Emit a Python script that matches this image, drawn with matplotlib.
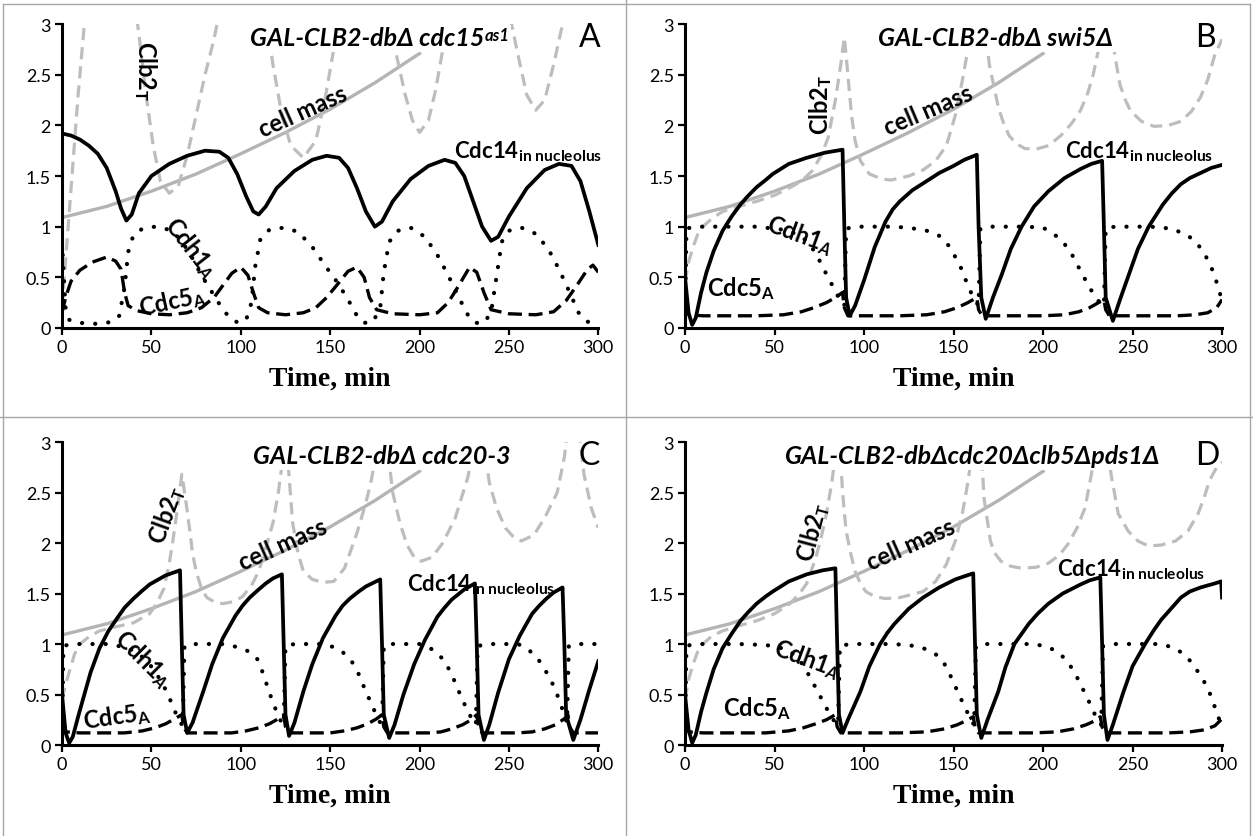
import numpy as np
import matplotlib
matplotlib.use('Agg')
import matplotlib.pyplot as plt
from matplotlib.lines import Line2D

plt.rcParams['font.family'] = ['Lato', 'DejaVu Sans']
plt.rcParams['mathtext.fontset'] = 'custom'
plt.rcParams['mathtext.rm'] = 'Lato:bold'
plt.rcParams['mathtext.it'] = 'Lato:italic:bold'
plt.rcParams['mathtext.bf'] = 'Lato:bold'

# ---- data: (time, value) ----
cell_mass = [(0, 1.09), (25, 1.2), (50, 1.35), (75, 1.52), (100, 1.72),
             (125, 1.93), (150, 2.16), (175, 2.42), (200, 2.71)]

# panel A: GAL-CLB2-dbΔ cdc15as1
a_clb2 = [(0, 0.2), (3, 0.9), (6, 1.6), (9, 2.3), (12, 2.9), (14, 3.3), (27, 3.6),
          (40, 3.3), (43, 2.9), (47, 2.3), (51, 1.8), (55, 1.45), (60, 1.33), (65, 1.4),
          (70, 1.7), (75, 2.1), (80, 2.5), (85, 2.85), (89, 3.2), (100, 3.6),
          (112, 3.3), (118, 2.6), (123, 2.1), (128, 1.8), (135, 1.68), (142, 1.85),
          (147, 2.25), (152, 2.75), (155, 3.1), (168, 3.6),
          (180, 3.3), (187, 2.7), (192, 2.3), (196, 2.05), (200, 1.93), (205, 2.05),
          (209, 2.35), (213, 2.75), (217, 3.2), (232, 3.6),
          (248, 3.3), (255, 2.7), (260, 2.3), (265, 2.15), (270, 2.25), (275, 2.6),
          (280, 3.0), (283, 3.3), (292, 3.6), (300, 3.8)]
a_cdc14 = [(0, 1.92), (5, 1.9), (10, 1.86), (15, 1.8), (20, 1.72), (25, 1.58), (30, 1.35),
           (33, 1.18), (36, 1.06), (39, 1.12), (43, 1.33), (50, 1.5), (60, 1.62), (70, 1.7),
           (80, 1.75), (88, 1.74), (93, 1.68), (98, 1.52), (103, 1.3), (107, 1.15),
           (110, 1.12), (114, 1.2), (120, 1.38), (130, 1.55), (140, 1.66), (148, 1.70),
           (155, 1.68), (160, 1.58), (165, 1.38), (170, 1.15), (175, 1.0), (179, 1.05),
           (185, 1.25), (195, 1.47), (205, 1.6), (214, 1.66), (220, 1.63), (225, 1.5),
           (230, 1.25), (235, 1.0), (240, 0.86), (244, 0.9), (250, 1.1), (260, 1.38),
           (270, 1.56), (278, 1.62), (285, 1.6), (290, 1.45), (295, 1.15), (300, 0.82)]
a_cdh1 = [(0, 0.85), (1, 0.5), (2, 0.2), (4, 0.08), (10, 0.05), (20, 0.04), (28, 0.06),
          (32, 0.12), (35, 0.4), (37, 0.75), (40, 0.92), (45, 0.98), (52, 1.0), (60, 0.97),
          (66, 0.88), (72, 0.72), (78, 0.52), (84, 0.35), (90, 0.18), (95, 0.08), (99, 0.05),
          (103, 0.08), (106, 0.25), (108, 0.6), (111, 0.88), (116, 0.97), (124, 0.99),
          (132, 0.95), (140, 0.8), (147, 0.62), (154, 0.45), (160, 0.28), (165, 0.12),
          (169, 0.05), (174, 0.06), (178, 0.2), (180, 0.55), (183, 0.85), (188, 0.96),
          (195, 0.99), (203, 0.9), (210, 0.72), (216, 0.52), (222, 0.3), (227, 0.13),
          (231, 0.05), (236, 0.05), (240, 0.15), (243, 0.5), (246, 0.85), (250, 0.96),
          (257, 0.99), (265, 0.93), (272, 0.78), (278, 0.58), (284, 0.35), (289, 0.15),
          (294, 0.06), (300, 0.09)]
a_cdc5 = [(0, 0.15), (2, 0.3), (5, 0.46), (10, 0.57), (17, 0.65), (25, 0.7), (30, 0.66),
          (33, 0.58), (35, 0.35), (37, 0.22), (42, 0.17), (50, 0.14), (60, 0.13), (70, 0.15),
          (78, 0.2), (85, 0.3), (90, 0.42), (95, 0.54), (100, 0.6), (104, 0.52), (107, 0.35),
          (110, 0.2), (115, 0.15), (125, 0.13), (135, 0.15), (142, 0.2), (148, 0.3),
          (155, 0.45), (160, 0.56), (165, 0.6), (169, 0.5), (172, 0.3), (176, 0.18),
          (185, 0.14), (200, 0.13), (210, 0.15), (216, 0.25), (222, 0.42), (228, 0.6),
          (232, 0.55), (236, 0.35), (240, 0.18), (250, 0.14), (265, 0.13), (275, 0.16),
          (282, 0.27), (288, 0.42), (294, 0.58), (297, 0.62), (300, 0.55)]

# panel B: GAL-CLB2-dbΔ swi5Δ
b_clb2 = [(0, 0.45), (2, 0.65), (4.5, 0.8), (7, 0.92), (10, 1.0), (15, 1.08), (21, 1.15),
          (30, 1.2), (40, 1.25), (50, 1.31), (58, 1.38), (65, 1.45), (71, 1.55), (76, 1.7),
          (80, 1.88), (84, 2.25), (87, 2.6), (89, 2.87), (91, 2.5), (93, 2.1), (95, 1.85),
          (98, 1.65), (103, 1.52), (110, 1.47), (115, 1.46), (125, 1.5), (133, 1.56),
          (140, 1.65), (146, 1.8), (151, 2.1), (155, 2.45), (159, 2.85), (162, 3.2),
          (165, 3.3), (168, 2.9), (170, 2.6), (173, 2.35), (175, 2.18), (178, 2.02),
          (181, 1.9), (185, 1.82), (190, 1.77), (197, 1.77), (203, 1.8), (210, 1.9),
          (216, 2.02), (221, 2.15), (225, 2.32), (228, 2.5), (231, 2.75), (234, 3.2),
          (238, 3.1), (240, 2.7), (243, 2.4), (246, 2.25), (249, 2.14), (255, 2.04),
          (262, 1.99), (270, 2.0), (277, 2.04), (283, 2.14), (288, 2.28), (292, 2.45),
          (296, 2.7), (300, 2.85)]
b_cdc14 = [(0, 0.5), (2, 0.15), (4, 0.03), (6, 0.1), (9, 0.35), (12, 0.55), (16, 0.76),
           (21, 0.96), (26, 1.1), (31, 1.22), (35, 1.3), (40, 1.39), (45, 1.46), (49, 1.52),
           (58, 1.62), (68, 1.68), (78, 1.73), (88, 1.76), (89, 1.0), (90, 0.3), (92, 0.12),
           (95, 0.22), (100, 0.47), (106, 0.8), (112, 1.05), (116, 1.17), (120, 1.25),
           (127, 1.36), (135, 1.45), (142, 1.53), (150, 1.6), (156, 1.66), (163, 1.71),
           (164, 1.0), (165.5, 0.3), (168, 0.09), (172, 0.3), (177, 0.53), (182, 0.78),
           (188, 1.0), (195, 1.2), (203, 1.35), (212, 1.48), (221, 1.57), (227, 1.62),
           (233, 1.65), (234, 1.0), (235, 0.3), (239, 0.07), (243, 0.28), (248, 0.53),
           (253, 0.78), (259, 1.0), (267, 1.22), (272, 1.33), (277, 1.42), (282, 1.48),
           (288, 1.53), (294, 1.58), (300, 1.61)]
b_cdh1 = [(0, 0.1), (0.8, 0.98), (5, 1.0), (20, 1.0), (40, 1.0), (55, 0.97), (62, 0.93),
          (68, 0.86), (73, 0.74), (77, 0.6), (81, 0.46), (84, 0.37), (87, 0.25), (89, 0.22),
          (90, 0.98), (95, 1.0), (115, 1.0), (125, 0.99), (135, 0.96), (142, 0.91),
          (148, 0.8), (154, 0.6), (158, 0.42), (161, 0.3), (164, 0.22), (165, 0.98),
          (170, 1.0), (190, 1.0), (200, 0.99), (206, 0.93), (212, 0.83), (217, 0.7),
          (221, 0.56), (226, 0.4), (230, 0.28), (234, 0.22), (235, 0.98), (240, 1.0),
          (260, 1.0), (272, 0.98), (280, 0.92), (285, 0.86), (290, 0.74), (294, 0.6),
          (297, 0.45), (299, 0.33), (300, 0.28)]
b_cdc5 = [(0, 0.25), (2, 0.13), (10, 0.12), (40, 0.12), (55, 0.13), (65, 0.16), (72, 0.2),
          (79, 0.25), (84, 0.3), (88, 0.35), (89, 0.2), (91, 0.12), (120, 0.12), (135, 0.13),
          (145, 0.16), (152, 0.2), (158, 0.25), (163, 0.3), (164, 0.18), (166, 0.12),
          (200, 0.12), (212, 0.13), (220, 0.16), (226, 0.2), (231, 0.25), (234, 0.28),
          (235, 0.18), (237, 0.12), (275, 0.12), (285, 0.13), (292, 0.15), (297, 0.2),
          (300, 0.28)]

# panel C: GAL-CLB2-dbΔ cdc20-3
c_clb2 = [(0, 0.45), (2, 0.6), (4.5, 0.75), (7, 0.9), (10, 1.0), (15, 1.07), (21, 1.13),
          (30, 1.17), (40, 1.21), (49, 1.3), (53, 1.4), (57, 1.55), (60, 1.8), (62, 2.02),
          (65, 2.4), (67, 2.68), (69, 2.45), (71.5, 2.12), (73, 1.9), (75, 1.72), (78, 1.55),
          (81, 1.46), (86, 1.41), (90, 1.4), (96, 1.42), (101, 1.47), (106, 1.58),
          (110, 1.72), (114, 1.95), (118, 2.2), (121, 2.5), (124, 2.9), (126, 2.9),
          (129, 2.2), (132, 1.9), (135, 1.72), (140, 1.64), (146, 1.61), (152, 1.62),
          (158, 1.75), (165, 2.1), (170, 2.4), (173, 2.62), (177, 3.0), (182, 2.95),
          (185, 2.5), (189, 2.2), (193, 1.98), (197, 1.86), (201, 1.82), (207, 1.86),
          (213, 2.0), (220, 2.25), (227, 2.65), (232, 3.1), (236, 3.0), (239, 2.6),
          (243, 2.35), (248, 2.15), (253, 2.05), (257, 2.02), (264, 2.08), (270, 2.25),
          (277, 2.5), (281, 2.85), (284, 3.3), (288, 3.3), (292, 2.68), (296, 2.35),
          (300, 2.15)]
c_cdc14 = [(0, 0.5), (2, 0.12), (4, 0.02), (6, 0.08), (9, 0.28), (12, 0.47), (16, 0.72),
           (21, 0.96), (26, 1.13), (31, 1.26), (35, 1.36), (40, 1.45), (45, 1.53), (49, 1.59),
           (54, 1.64), (58, 1.68), (66, 1.73), (67, 1.0), (68, 0.3), (70, 0.12), (73, 0.22),
           (79, 0.53), (84, 0.8), (90, 1.06), (97, 1.28), (101, 1.38), (105, 1.46),
           (110, 1.54), (114, 1.6), (118, 1.65), (123, 1.69), (124, 1.0), (125, 0.3),
           (127, 0.09), (130, 0.22), (135, 0.53), (140, 0.8), (146, 1.06), (153, 1.28),
           (157, 1.38), (161, 1.45), (166, 1.52), (170, 1.57), (178, 1.64), (179, 1.0),
           (180, 0.3), (183, 0.07), (186, 0.2), (191, 0.5), (197, 0.8), (203, 1.04),
           (210, 1.27), (214, 1.36), (218, 1.44), (225, 1.54), (231, 1.6), (232, 1.0),
           (233, 0.3), (236, 0.05), (239, 0.2), (244, 0.52), (250, 0.85), (256, 1.08),
           (263, 1.3), (267, 1.38), (271, 1.45), (275, 1.51), (280, 1.56), (281, 1.0),
           (282, 0.3), (286, 0.05), (290, 0.25), (295, 0.55), (300, 0.83)]
c_cdh1 = [(0, 0.1), (0.8, 0.98), (5, 1.0), (25, 1.0), (35, 0.97), (42, 0.92), (49, 0.8),
          (53, 0.7), (56.5, 0.6), (60, 0.47), (62, 0.38), (64, 0.3), (66, 0.22), (67.5, 0.2),
          (68.5, 0.98), (75, 1.0), (90, 1.0), (98, 0.97), (104, 0.93), (109, 0.86),
          (112, 0.73), (114.5, 0.6), (117, 0.47), (120, 0.33), (122, 0.25), (124, 0.2),
          (125, 0.98), (130, 1.0), (145, 1.0), (152, 0.97), (157, 0.92), (162, 0.83),
          (166, 0.7), (169, 0.57), (172, 0.45), (175, 0.33), (178, 0.22), (179, 0.2),
          (180, 0.98), (185, 1.0), (200, 1.0), (205, 0.97), (210, 0.91), (214, 0.83),
          (218, 0.7), (221, 0.57), (224, 0.45), (227, 0.33), (230, 0.24), (231.5, 0.2),
          (232.5, 0.98), (238, 1.0), (255, 1.0), (260, 0.96), (266, 0.86), (271, 0.72),
          (275.5, 0.57), (278, 0.45), (281, 0.3), (282.5, 0.22), (283.5, 0.98), (290, 1.0),
          (300, 1.0)]
c_cdc5 = [(0, 0.22), (2, 0.13), (10, 0.12), (35, 0.12), (45, 0.14), (52, 0.17), (58, 0.21),
          (63, 0.26), (67, 0.3), (68, 0.18), (70, 0.12), (95, 0.12), (103, 0.14), (110, 0.17),
          (116, 0.21), (120, 0.25), (124, 0.3), (125, 0.18), (127, 0.12), (150, 0.12),
          (158, 0.14), (165, 0.17), (171, 0.21), (176, 0.26), (179, 0.3), (180, 0.18),
          (182, 0.12), (205, 0.12), (212, 0.13), (218, 0.16), (224, 0.2), (229, 0.25),
          (232, 0.3), (233, 0.18), (235, 0.12), (255, 0.12), (263, 0.13), (270, 0.16),
          (276, 0.2), (281, 0.26), (283, 0.3), (284, 0.18), (286, 0.12), (300, 0.12)]

# panel D: GAL-CLB2-dbΔcdc20Δclb5Δpds1Δ
d_clb2 = [(0, 0.45), (2, 0.65), (4.5, 0.8), (7, 0.92), (10, 1.0), (15, 1.08), (21, 1.13),
          (30, 1.18), (40, 1.23), (50, 1.3), (58.6, 1.4), (64, 1.5), (68, 1.6), (73, 1.85),
          (76, 2.05), (79, 2.29), (82, 2.6), (85, 3.0), (86.5, 3.0), (88, 2.5), (90, 2.12),
          (92.5, 1.9), (95, 1.72), (98, 1.6), (101, 1.52), (106, 1.47), (112, 1.45),
          (120, 1.46), (133, 1.52), (140, 1.62), (146, 1.79), (151, 2.02), (155, 2.3),
          (158, 2.6), (162, 3.1), (165, 3.1), (167, 2.45), (170.6, 2.02), (173, 1.9),
          (176.5, 1.82), (182, 1.77), (188, 1.75), (196, 1.76), (203, 1.8), (209, 1.88),
          (214, 1.99), (219, 2.15), (223.5, 2.35), (227, 2.68), (231, 3.1), (235, 3.1),
          (238, 2.68), (242, 2.29), (247.5, 2.12), (253, 2.02), (259, 1.97), (266, 1.98),
          (274, 2.02), (281, 2.12), (286.6, 2.29), (290, 2.45), (293, 2.62), (297, 2.75),
          (300, 2.8)]
d_cdc14 = [(0, 0.5), (2, 0.15), (4, 0.02), (6, 0.1), (9, 0.33), (12, 0.52), (16, 0.75),
           (21, 0.96), (26, 1.1), (31, 1.23), (35, 1.31), (40, 1.4), (45, 1.47), (49, 1.52),
           (58, 1.62), (68, 1.69), (77, 1.73), (84, 1.75), (85, 1.0), (86, 0.3), (88, 0.12),
           (91, 0.25), (98, 0.53), (103, 0.78), (109, 1.0), (113, 1.11), (117, 1.2),
           (125, 1.35), (133, 1.46), (142, 1.56), (151, 1.64), (161, 1.7), (162, 1.0),
           (163, 0.3), (165.5, 0.07), (169, 0.25), (175, 0.53), (179, 0.77), (184, 1.0),
           (192, 1.2), (197, 1.3), (203, 1.4), (211, 1.5), (221, 1.59), (226, 1.63),
           (232, 1.66), (233, 1.0), (234, 0.3), (236, 0.05), (239, 0.2), (245, 0.53),
           (250, 0.78), (257, 1.0), (262, 1.14), (266, 1.24), (272, 1.36), (277, 1.46),
           (282, 1.52), (288, 1.56), (296, 1.6), (299.5, 1.62), (300, 1.46)]
d_cdh1 = [(0, 0.1), (0.8, 0.98), (5, 1.0), (30, 1.0), (45, 0.99), (52, 0.97), (58.6, 0.93),
          (64, 0.84), (68, 0.73), (72, 0.6), (75, 0.5), (78, 0.4), (81, 0.3), (84, 0.22),
          (85.5, 0.2), (86.5, 0.98), (92, 1.0), (115, 1.0), (125, 0.99), (133, 0.96),
          (140, 0.9), (145, 0.8), (149, 0.66), (153, 0.5), (157, 0.35), (160, 0.24),
          (161.5, 0.2), (162.5, 0.98), (168, 1.0), (195, 1.0), (203, 0.97), (208, 0.92),
          (212, 0.86), (217, 0.74), (221, 0.6), (224, 0.49), (227, 0.38), (230, 0.26),
          (232.5, 0.2), (233.5, 0.98), (240, 1.0), (265, 1.0), (272, 0.97), (277, 0.92),
          (281, 0.86), (286, 0.74), (292, 0.57), (295, 0.42), (297, 0.33), (299, 0.22),
          (300, 0.2)]
d_cdc5 = [(0, 0.22), (2, 0.13), (10, 0.12), (45, 0.12), (58, 0.14), (66, 0.17), (73, 0.21),
          (79, 0.25), (84, 0.3), (85, 0.18), (87, 0.12), (120, 0.12), (135, 0.13),
          (145, 0.16), (152, 0.2), (157, 0.24), (161, 0.28), (162, 0.18), (164, 0.12),
          (195, 0.12), (208, 0.13), (217, 0.16), (224, 0.2), (229, 0.24), (232, 0.28),
          (233, 0.18), (235, 0.12), (270, 0.12), (282, 0.13), (290, 0.15), (296, 0.19),
          (300, 0.26)]

x_ticks = [0, 50, 100, 150, 200, 250, 300]
y_ticks = [0, 0.5, 1, 1.5, 2, 2.5, 3]
y_labels = ['0', '0.5', '1', '1.5', '2', '2.5', '3']

LBL = 17
LW = 'bold'


def curve(ax, pts, **kw):
    t, v = np.array(pts, dtype=float).T
    ax.plot(t, v, solid_joinstyle='round', **kw)


def label(ax, x, y, s, rot=0, ha='center', size=LBL):
    ax.text(x, y, s, rotation=rot, ha=ha, va='center', fontsize=size, weight=LW,
            rotation_mode='anchor' if ha == 'left' else 'default', zorder=6)


def panel(rect, clb2, cdc14, cdh1, cdc5, title, title_x, letter, letter_x, sup=None):
    ax = fig.add_axes(rect)
    curve(ax, cell_mass, color='#b4b4b4', lw=2.4, zorder=2)
    curve(ax, clb2, color='#bdbdbd', lw=2.3, dashes=(3.8, 2.2), zorder=2)
    curve(ax, cdc5, color='black', lw=2.4, dashes=(4.2, 2.0), zorder=3)
    curve(ax, cdh1, color='black', lw=3.0, dashes=(0.05, 3.1),
          dash_capstyle='round', zorder=3)
    curve(ax, cdc14, color='black', lw=2.7, zorder=4)

    ax.set_xlim(0, 300)
    ax.set_ylim(0, 3)
    ax.set_xticks(x_ticks)
    ax.set_yticks(y_ticks)
    ax.set_yticklabels(y_labels)
    for s in ['top', 'right']:
        ax.spines[s].set_visible(False)
    for s in ['left', 'bottom']:
        ax.spines[s].set_linewidth(2.2)
    ax.tick_params(direction='out', length=5, width=1.6, labelsize=13, pad=3)
    ax.text(0.5, -0.165, 'Time, min', transform=ax.transAxes, ha='center',
            va='center', fontsize=20, family='Liberation Serif', weight='bold')

    tt = ax.text(title_x, 2.87, title, ha='left', va='center', fontsize=18,
                 weight='bold', style='italic', zorder=10,
                 bbox=dict(boxstyle='square,pad=0.12', fc='white', ec='none'))
    if sup:
        ax.annotate(sup, xy=(1, 1), xycoords=tt, xytext=(0.5, -1),
                    textcoords='offset points', ha='left', va='top', fontsize=12,
                    weight='bold', style='italic', zorder=10,
                    bbox=dict(boxstyle='square,pad=0.1', fc='white', ec='none'))
    ax.text(letter_x, 2.87, letter, ha='center', va='center', fontsize=23, zorder=10)
    return ax


fig = plt.figure(figsize=(12.53, 8.37), dpi=100)

rect_a = [0.0495, 0.607, 0.428, 0.363]
rect_b = [0.5467, 0.607, 0.4286, 0.363]
rect_c = [0.0495, 0.1087, 0.428, 0.362]
rect_d = [0.5467, 0.1087, 0.4286, 0.362]

CLB = 'Clb2$_{\\mathrm{T}}$'
CDC14 = 'Cdc14$_{\\mathrm{in\\ nucleolus}}$'
CDH1 = 'Cdh1$_{\\mathit{A}}$'
CDC5 = 'Cdc5$_{\\mathrm{A}}$'

ax = panel(rect_a, a_clb2, a_cdc14, a_cdh1, a_cdc5, 'GAL-CLB2-dbΔ cdc15', 105, 'A', 295,
           sup='as1')
label(ax, 46.5, 2.54, CLB, 270)
label(ax, 135, 2.14, 'cell mass', 24)
label(ax, 219.5, 1.75, CDC14, ha='left', size=16)
label(ax, 72, 0.8, CDH1, -52)
label(ax, 62, 0.27, CDC5, 12)

ax = panel(rect_b, b_clb2, b_cdc14, b_cdh1, b_cdc5, 'GAL-CLB2-dbΔ swi5Δ', 108, 'B', 290.5)
label(ax, 75.5, 2.21, CLB, 90)
label(ax, 136, 2.15, 'cell mass', 23)
label(ax, 212, 1.75, CDC14, ha='left', size=16)
label(ax, 64, 0.93, CDH1, -20)
label(ax, 31, 0.4, CDC5)

ax = panel(rect_c, c_clb2, c_cdc14, c_cdh1, c_cdc5, 'GAL-CLB2-dbΔ cdc20-3', 107, 'C', 295)
label(ax, 58.5, 2.29, CLB, 70)
label(ax, 123.6, 1.99, 'cell mass', 24)
label(ax, 193, 1.6, CDC14, ha='left', size=16)
label(ax, 45, 0.86, CDH1, -45)
label(ax, 30.5, 0.29, CDC5, 8)

ax = panel(rect_d, d_clb2, d_cdc14, d_cdh1, d_cdc5, 'GAL-CLB2-dbΔcdc20Δclb5Δpds1Δ', 56,
           'D', 291.6)
label(ax, 71.5, 2.12, CLB, 75)
label(ax, 126, 1.99, 'cell mass', 24)
label(ax, 208, 1.75, CDC14, ha='left', size=16)
label(ax, 68, 0.86, CDH1, -20)
label(ax, 40, 0.37, CDC5)

# panel frame lines
grey = '#a6a6a6'
for xs, ys in [([0.4996, 0.4996], [0, 1]), ([0, 1], [0.5006, 0.5006]),
               ([0.0024, 0.0024], [0, 0.994]), ([0.0024, 0.9976], [0.994, 0.994]),
               ([0.9976, 0.9976], [0, 0.994])]:
    fig.add_artist(Line2D(xs, ys, color=grey, lw=1, transform=fig.transFigure))

fig.savefig('out.png', dpi=100)
